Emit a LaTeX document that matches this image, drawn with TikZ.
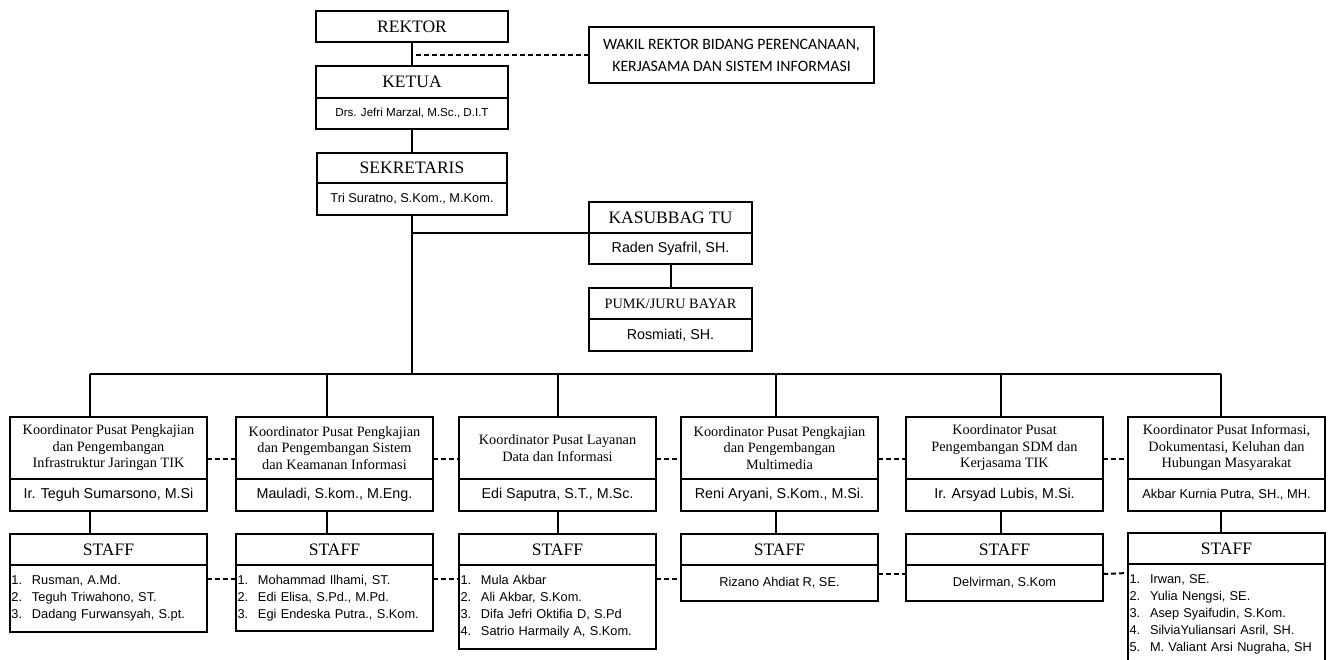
\documentclass[tikz,border=0pt]{standalone}
\usepackage{fontspec}
\setmainfont{Liberation Serif}
\setsansfont{Liberation Sans}
\newfontfamily\calib{Carlito}
\usetikzlibrary{positioning}

\tikzset{
  unit/.style={draw, line width=2pt, inner sep=0pt, outer sep=0pt, align=center},
  ttl/.style={unit, font=\fontsize{17.5}{20}\selectfont},
  nm/.style={unit, font=\sffamily\fontsize{14.3}{17}\selectfont},
  koor/.style={unit, minimum width=197pt, minimum height=62pt, font=\fontsize{14.3}{16.5}\selectfont},
  koornm/.style={nm, minimum width=197pt, minimum height=32pt},
  stafft/.style={ttl, minimum width=197pt, minimum height=31pt},
  stafflist/.style={unit, text width=197pt, align=left, font=\sffamily\fontsize{12.8}{17}\selectfont},
  staffone/.style={unit, minimum width=197pt, minimum height=36pt, font=\sffamily\fontsize{12.8}{17}\selectfont},
  link/.style={line width=2pt},
  dotlink/.style={line width=2pt, dash pattern=on 5pt off 3pt}
}
\newcommand{\itm}[1]{\hspace*{1.5pt}\makebox[20.5pt][l]{#1}}

\begin{document}
\begin{tikzpicture}[x=1pt, y=-1pt]
  \useasboundingbox (0,0) rectangle (1332,660);
  \clip (0,0) rectangle (1332,660);

  % top of the chart
  \node (rektor) [ttl, anchor=north west, minimum width=192pt, minimum height=31pt] at (316,11) {REKTOR};
  \node (wakil) [unit, anchor=north west, minimum width=285pt, minimum height=56pt, font=\calib\fontsize{15.8}{22}\selectfont] at (589,27)
    {WAKIL REKTOR BIDANG PERENCANAAN,\\KERJASAMA DAN SISTEM INFORMASI};
  \node (ketua) [ttl, anchor=north west, minimum width=192pt, minimum height=32pt] at (316,66) {KETUA};
  \node (ketuan) [below=0pt of ketua, nm, minimum width=192pt, minimum height=31pt, font=\sffamily\fontsize{11.6}{14}\selectfont] {Drs. Jefri Marzal, M.Sc., D.I.T};
  \node (sekt) [ttl, anchor=north west, minimum width=190pt, minimum height=30pt] at (317,153) {SEKRETARIS};
  \node (sekn) [below=0pt of sekt, nm, minimum width=190pt, minimum height=32pt, font=\sffamily\fontsize{12.8}{15}\selectfont] {Tri Suratno, S.Kom., M.Kom.};
  \node (kast) [ttl, anchor=north west, minimum width=163pt, minimum height=31pt] at (589,202) {KASUBBAG TU};
  \node (kasn) [below=0pt of kast, nm, minimum width=163pt, minimum height=31pt] {Raden Syafril, SH.};
  \node (pumkt) [unit, anchor=north west, minimum width=163pt, minimum height=31pt, font=\fontsize{14.3}{17}\selectfont] at (589,288) {PUMK/JURU BAYAR};
  \node (pumkn) [below=0pt of pumkt, nm, minimum width=163pt, minimum height=32pt] {Rosmiati, SH.};

  % koordinator
  \node (k1t) [koor, anchor=north west] at (10,417) {Koordinator Pusat Pengkajian\\dan Pengembangan\\Infrastruktur Jaringan TIK};
  \node (k1n) [below=0pt of k1t, koornm] {Ir. Teguh Sumarsono, M.Si};
  \node (k2t) [koor, anchor=north west] at (236,417) {Koordinator Pusat Pengkajian\\dan Pengembangan Sistem\\dan Keamanan Informasi};
  \node (k2n) [below=0pt of k2t, koornm] {Mauladi, S.kom., M.Eng.};
  \node (k3t) [koor, anchor=north west] at (459,417) {Koordinator Pusat Layanan\\Data dan Informasi};
  \node (k3n) [below=0pt of k3t, koornm] {Edi Saputra, S.T., M.Sc.};
  \node (k4t) [koor, anchor=north west] at (681,417) {Koordinator Pusat Pengkajian\\dan Pengembangan\\Multimedia};
  \node (k4n) [below=0pt of k4t, koornm] {Reni Aryani, S.Kom., M.Si.};
  \node (k5t) [koor, anchor=north west] at (906,417) {Koordinator Pusat\\Pengembangan SDM dan\\Kerjasama TIK};
  \node (k5n) [below=0pt of k5t, koornm] {Ir. Arsyad Lubis, M.Si.};
  \node (k6t) [koor, anchor=north west] at (1128,417) {Koordinator Pusat Informasi,\\Dokumentasi, Keluhan dan\\Hubungan Masyarakat};
  \node (k6n) [below=0pt of k6t, koornm, font=\sffamily\fontsize{12.9}{15}\selectfont] {Akbar Kurnia Putra, SH., MH.};

  % staff
  \node (st1t) [stafft, anchor=north west] at (10,534) {STAFF};
  \node (st1n) [below=0pt of st1t, stafflist, minimum height=67pt]
    {\itm{1.}Rusman, A.Md.\\\itm{2.}Teguh Triwahono, ST.\\\itm{3.}Dadang Furwansyah, S.pt.};
  \node (st2t) [stafft, anchor=north west] at (236,534) {STAFF};
  \node (st2n) [below=0pt of st2t, stafflist, minimum height=66pt]
    {\itm{1.}Mohammad Ilhami, ST.\\\itm{2.}Edi Elisa, S.Pd., M.Pd.\\\itm{3.}Egi Endeska Putra., S.Kom.};
  \node (st3t) [stafft, anchor=north west] at (459,534) {STAFF};
  \node (st3n) [below=0pt of st3t, stafflist, minimum height=84pt]
    {\itm{1.}Mula Akbar\\\itm{2.}Ali Akbar, S.Kom.\\\itm{3.}Difa Jefri Oktifia D, S.Pd\\\itm{4.}Satrio Harmaily A, S.Kom.};
  \node (st4t) [stafft, anchor=north west] at (681,534) {STAFF};
  \node (st4n) [below=0pt of st4t, staffone] {Rizano Ahdiat R, SE.};
  \node (st5t) [stafft, anchor=north west] at (906,534) {STAFF};
  \node (st5n) [below=0pt of st5t, staffone] {Delvirman, S.Kom};
  \node (st6t) [stafft, anchor=north west] at (1128,533) {STAFF};
  \node (st6n) [below=0pt of st6t, stafflist, minimum height=101pt]
    {\itm{1.}Irwan, SE.\\\itm{2.}Yulia Nengsi, SE.\\\itm{3.}Asep Syaifudin, S.Kom.\\\itm{4.}SilviaYuliansari Asril, SH.\\\itm{5.}M. Valiant Arsi Nugraha, SH};

  % lines
  \coordinate (s1) at (90,374);
  \coordinate (s2) at (327,374);
  \coordinate (s3) at (558,374);
  \coordinate (s4) at (776,374);
  \coordinate (s5) at (1001,374);
  \coordinate (s6) at (1221,374);

  \draw [link] (rektor) -- (ketua);
  \draw [dotlink] (wakil.west) -- (wakil.west -| rektor.south);
  \draw [link] (ketuan) -- (sekt);
  \draw [link] (sekn.south) -- (sekn.south |- s1);
  \draw [link] (kasn.north west) -- (kasn.north west -| sekn.south);
  \draw [link] (kasn) -- (pumkt);
  \draw [link] (s1) -- (s6);

  \draw [link] (s1) -- (s1 |- k1t.north);
  \draw [link] (s2) -- (s2 |- k2t.north);
  \draw [link] (s3) -- (s3 |- k3t.north);
  \draw [link] (s4) -- (s4 |- k4t.north);
  \draw [link] (s5) -- (s5 |- k5t.north);
  \draw [link] (s6) -- (s6 |- k6t.north);

  \draw [link] (s1 |- k1n.south) -- (s1 |- st1t.north);
  \draw [link] (s2 |- k2n.south) -- (s2 |- st2t.north);
  \draw [link] (s3 |- k3n.south) -- (s3 |- st3t.north);
  \draw [link] (s4 |- k4n.south) -- (s4 |- st4t.north);
  \draw [link] (s5 |- k5n.south) -- (s5 |- st5t.north);
  \draw [link] (s6 |- k6n.south) -- (s6 |- st6t.north);

  \draw [dotlink] ([yshift=-11pt]k1t.east) -- ([yshift=-11pt]k2t.west);
  \draw [dotlink] ([yshift=-11pt]k2t.east) -- ([yshift=-11pt]k3t.west);
  \draw [dotlink] ([yshift=-11pt]k3t.east) -- ([yshift=-11pt]k4t.west);
  \draw [dotlink] ([yshift=-11pt]k4t.east) -- ([yshift=-11pt]k5t.west);
  \draw [dotlink] ([yshift=-11pt]k5t.east) -- ([yshift=-11pt]k6t.west);

  \draw [dotlink] ([yshift=-14pt]st1n.north east) -- ([yshift=-14pt]st2n.north west);
  \draw [dotlink] ([yshift=-14pt]st2n.north east) -- ([yshift=-14pt]st3n.north west);
  \draw [dotlink] ([yshift=-14pt]st3n.north east) -- ([yshift=-14pt]st4n.north west);
  \draw [dotlink] ([yshift=-9pt]st4n.north east) -- ([yshift=-9pt]st5n.north west);
  \draw [dotlink] ([yshift=-9pt]st5n.north east) -- ([yshift=-9pt]st6n.north west);
\end{tikzpicture}
\end{document}
